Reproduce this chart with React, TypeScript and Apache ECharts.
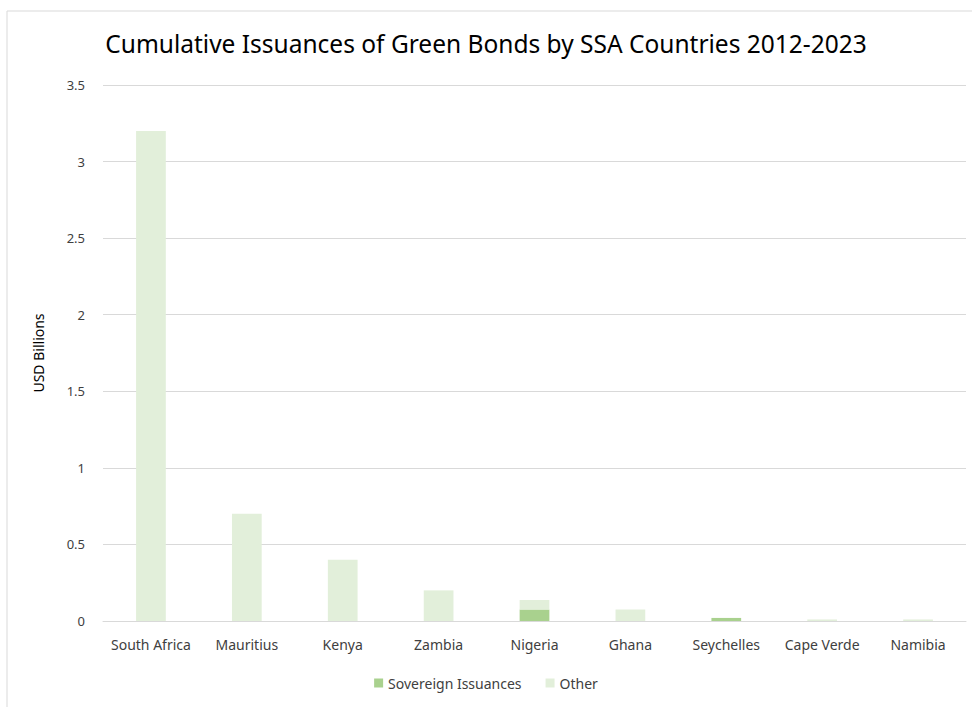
import React, { useEffect, useRef } from "react";
import * as echarts from "echarts";

const countries = ["South Africa", "Mauritius", "Kenya", "Zambia", "Nigeria", "Ghana", "Seychelles", "Cape Verde", "Namibia"];
const sovereign = [0, 0, 0, 0, 0.075, 0, 0.02, 0, 0];
const other = [3.2, 0.7, 0.4, 0.2, 0.062, 0.075, 0, 0.01, 0.01];
const seriesNames = ["Sovereign Issuances", "Other"];
const titleText = "Cumulative Issuances of Green Bonds by SSA Countries 2012-2023";
const yName = "USD Billions";

export default function App() {
  const ref = useRef<HTMLDivElement>(null);
  useEffect(() => {
    if (!ref.current) return;
    const chart = echarts.init(ref.current, null, { renderer: "svg" });
    const font = "'Noto Sans', sans-serif";
    chart.setOption({
      animation: false,
      backgroundColor: "#ffffff",
      textStyle: { fontFamily: font },
      title: {
        text: titleText,
        left: "center",
        top: 26,
        textStyle: { fontFamily: font, fontSize: 24.5, fontWeight: "normal", color: "#000000" },
      },
      graphic: [
        {
          type: "rect",
          shape: { x: 7, y: 11, width: 980, height: 720 },
          style: { fill: "none", stroke: "#d9d9d9", lineWidth: 1 },
          silent: true,
        },
      ],
      legend: {
        bottom: 12,
        left: "center",
        itemWidth: 9,
        itemHeight: 9,
        itemGap: 24,
        icon: "rect",
        textStyle: { fontFamily: font, fontSize: 14, color: "#404040" },
        data: seriesNames,
      },
      grid: { left: 103, right: 6, top: 85, bottom: 86, containLabel: false },
      xAxis: {
        type: "category",
        data: countries,
        axisLine: { lineStyle: { color: "#d9d9d9", width: 1 } },
        axisTick: { show: false },
        axisLabel: { color: "#404040", fontSize: 14, fontFamily: font, margin: 16, interval: 0 },
      },
      yAxis: {
        type: "value",
        min: 0,
        max: 3.5,
        interval: 0.5,
        name: yName,
        nameLocation: "middle",
        nameGap: 58,
        nameTextStyle: { color: "#000000", fontSize: 14, fontFamily: font },
        axisLine: { show: false },
        axisTick: { show: false },
        splitLine: { lineStyle: { color: "#d9d9d9", width: 1 } },
        axisLabel: { color: "#404040", fontSize: 13, fontFamily: font, margin: 18 },
      },
      series: [
        {
          name: seriesNames[0],
          type: "bar",
          stack: "total",
          data: sovereign,
          barWidth: "31%",
          itemStyle: { color: "#a9d18e" },
        },
        {
          name: seriesNames[1],
          type: "bar",
          stack: "total",
          data: other,
          barWidth: "31%",
          itemStyle: { color: "#e2efda" },
        },
      ],
    });
    return () => chart.dispose();
  }, []);
  return <div ref={ref} style={{ width: 972, height: 707, position: "absolute", left: 0, top: 0 }} />;
}
